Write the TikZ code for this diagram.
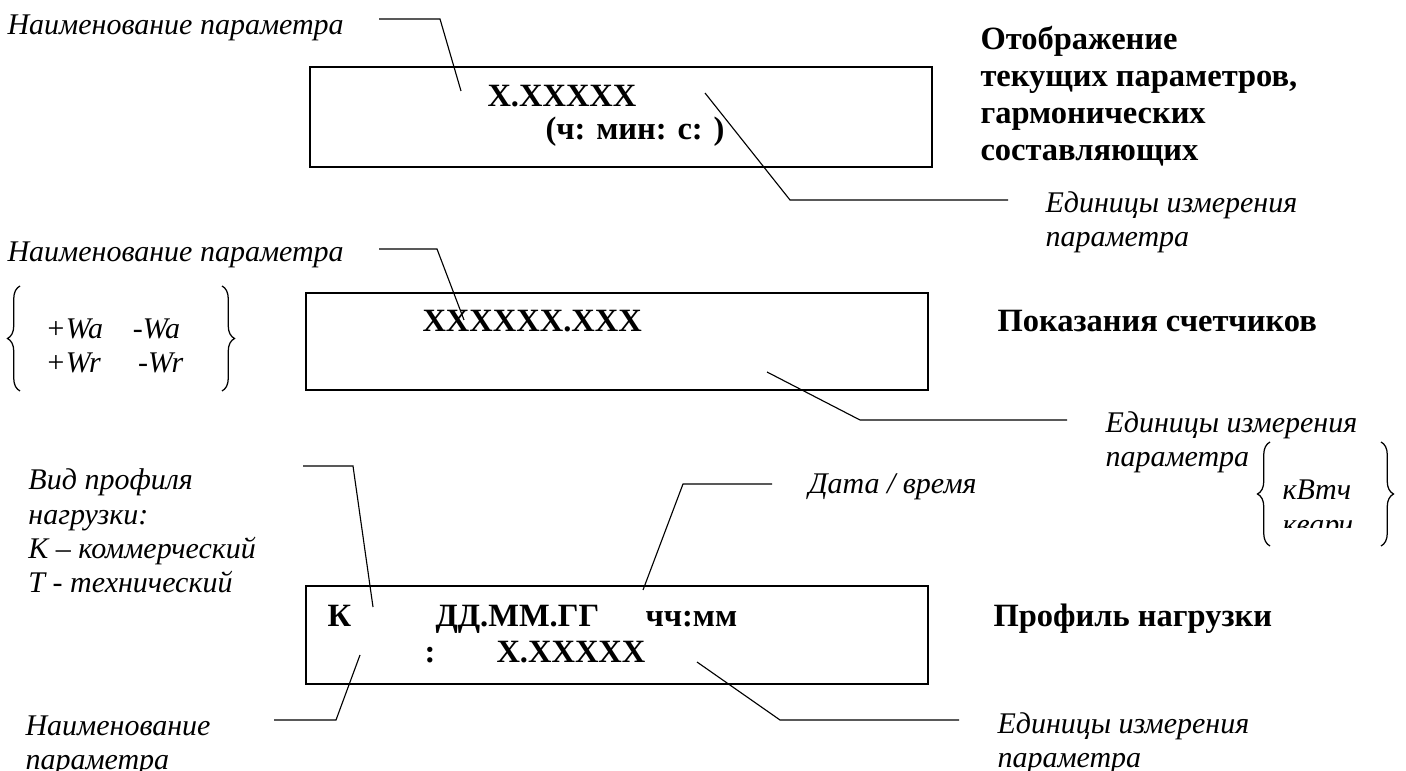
\documentclass[tikz,border=0pt]{standalone}
\usepackage{fontspec}
\setmainfont{Liberation Serif}
\usetikzlibrary{decorations.pathreplacing}
\tikzstyle{lbl} = [anchor=base west, inner sep=0pt, align=left, font=\itshape\fontsize{12}{13.6}\selectfont]
\tikzstyle{ttl} = [anchor=base west, inner sep=0pt, align=left, font=\bfseries\fontsize{13}{14.8}\selectfont]
\tikzstyle{val} = [anchor=base west, inner sep=0pt, font=\bfseries\fontsize{13}{15}\selectfont]
\tikzstyle{lcd} = [line width=0.7pt]
\tikzstyle{ld} = [line width=0.45pt]
\tikzstyle{brc} = [decorate, decoration={brace, amplitude=5pt}, line width=0.5pt]

\begin{document}
\begin{tikzpicture}[x=0.4pt,y=-0.4pt]
			\useasboundingbox (0,0) rectangle (1406,771);
			% current values (multi-line nodes sit on their last line)
			\node[lbl] (name1) at (7,35) {Наименование параметра};
			\draw[lcd] (310,67) rectangle (932,167);
			\node[val] (val1) at (487,107) {X.XXXXX};
			\node[val] (time1) at (545,140) {(ч: мин: с: )};
			\node[ttl] (ttl1) at (980,161) {Отображение\\текущих параметров,\\гармонических\\составляющих};
			\node[lbl] (unit1) at (1045,247) {Единицы измерения\\параметра};
			\coordinate (n1a) at (379,19);
			\coordinate (n1b) at (440,19);
			\coordinate (n1c) at (461,91);
			\coordinate (u1a) at (705,93);
			\coordinate (u1b) at (790,200);
			\coordinate (u1c) at (1008,200);
			\draw[ld] (n1a) -- (n1b) -- (n1c);
			\draw[ld] (u1a) -- (u1b) -- (u1c);
			% meter readings
			\node[lbl] (name2) at (7,262) {Наименование параметра};
			\draw[brc] (20,391) -- (20,286);
			\draw[brc] (222,286) -- (222,391);
			\node[lbl] (wa) at (45,373) {+Wa\quad -Wa\\+Wr\quad\ -Wr};
			\draw[lcd] (306,293) rectangle (928,390);
			\node[val] (val2) at (422,332) {XXXXXX.XXX};
			\node[ttl] (ttl2) at (997,332) {Показания счетчиков};
			\node[lbl] (unit2) at (1105,467) {Единицы измерения\\параметра};
			\draw[brc] (1270,546) -- (1270,442);
			\draw[brc] (1381,442) -- (1381,546);
			\node[lbl] (kwh) at (1282,500) {кВтч};
			\begin{scope}
				\clip (1275,400) rectangle (1375,528);
				\node[lbl] (kvarh) at (1282,535) {кварч};
			\end{scope}
			\coordinate (n2a) at (379,249);
			\coordinate (n2b) at (437,249);
			\coordinate (n2c) at (464,320);
			\coordinate (u2a) at (767,372);
			\coordinate (u2b) at (860,420);
			\coordinate (u2c) at (1067,420);
			\draw[ld] (n2a) -- (n2b) -- (n2c);
			\draw[ld] (u2a) -- (u2b) -- (u2c);
			% load profile
			\node[lbl] (kind) at (28,592) {Вид профиля\\нагрузки:\\К -- коммерческий\\Т - технический};
			\node[lbl] (date) at (808,494) {Дата / время};
			\draw[lcd] (306,586) rectangle (928,684);
			\node[val] (k) at (327,627) {К};
			\node[val] (dmy) at (435,627) {ДД.ММ.ГГ};
			\node[val] (hm) at (645,627) {чч:мм};
			\node[val] (colon) at (424,662) {:};
			\node[val] (val3) at (496,662) {X.XXXXX};
			\node[ttl] (ttl3) at (993,627) {Профиль нагрузки};
			\node[lbl] (name3) at (25,769) {Наименование\\параметра};
			\node[lbl] (unit3) at (997,767) {Единицы измерения\\параметра};
			\coordinate (ka) at (303,466);
			\coordinate (kb) at (353,466);
			\coordinate (kc) at (373,607);
			\coordinate (da) at (772,484);
			\coordinate (db) at (683,484);
			\coordinate (dc) at (643,590);
			\coordinate (n3a) at (360,655);
			\coordinate (n3b) at (336,720);
			\coordinate (n3c) at (274,720);
			\coordinate (u3a) at (697,662);
			\coordinate (u3b) at (780,720);
			\coordinate (u3c) at (959,720);
			\draw[ld] (ka) -- (kb) -- (kc);
			\draw[ld] (da) -- (db) -- (dc);
			\draw[ld] (n3a) -- (n3b) -- (n3c);
			\draw[ld] (u3a) -- (u3b) -- (u3c);
		\end{tikzpicture}
\end{document}
